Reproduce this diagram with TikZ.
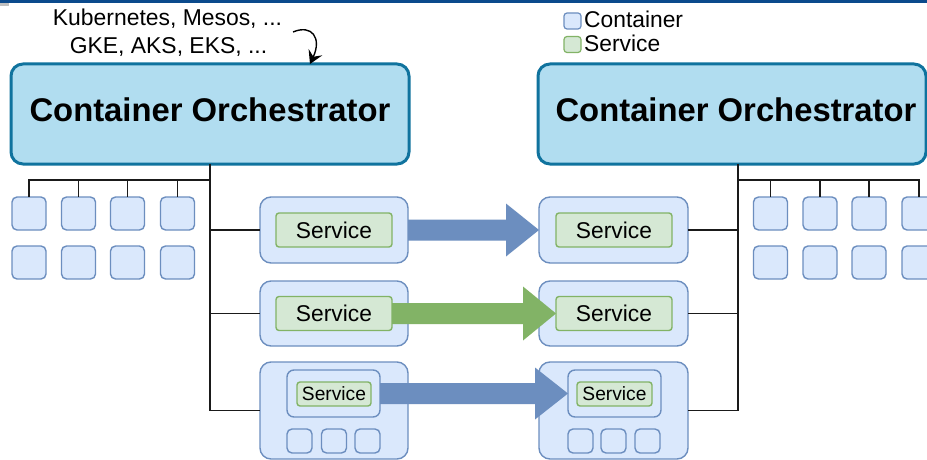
\documentclass[tikz,border=0pt]{standalone}
\usepackage{fontspec}
\setmainfont{Liberation Sans}
\usetikzlibrary{arrows.meta,calc}
\definecolor{orchfill}{HTML}{B1DDF0}
\definecolor{orchline}{HTML}{10739E}
\definecolor{contfill}{HTML}{DAE8FC}
\definecolor{contline}{HTML}{6C8EBF}
\definecolor{svcfill}{HTML}{D5E8D4}
\definecolor{svcline}{HTML}{82B366}
\definecolor{topbar}{HTML}{0B4A8C}
\definecolor{wirecol}{HTML}{1A1A1A}
\tikzset{
  orch/.style={draw=orchline, fill=orchfill, line width=3pt, rounded corners=12pt,
    minimum height=100pt, inner sep=0pt, outer sep=0pt},
  cont/.style={draw=contline, fill=contfill, line width=1.4pt, rounded corners=5pt,
    inner sep=0pt, outer sep=0pt},
  bigcont/.style={draw=contline, fill=contfill, line width=1.4pt, rounded corners=11pt,
    inner sep=0pt, outer sep=0pt},
  svc/.style={draw=svcline, fill=svcfill, line width=1.4pt, rounded corners=3pt,
    inner sep=0pt, outer sep=0pt, font=\fontsize{22.8}{27}\selectfont},
  smallsvc/.style={draw=svcline, fill=svcfill, line width=1.4pt, rounded corners=3pt,
    inner sep=0pt, outer sep=0pt, font=\fontsize{19.2}{23}\selectfont},
  legendbox/.style={line width=1.2pt, rounded corners=3pt, minimum width=17pt,
    minimum height=16pt, inner sep=0pt, outer sep=0pt},
  wire/.style={draw=wirecol, line width=1.4pt},
  titletext/.style={font=\bfseries\fontsize{32.8}{38}\selectfont, inner sep=0pt},
  labeltext/.style={font=\fontsize{22.9}{27}\selectfont, inner sep=0pt, anchor=base},
  legendtext/.style={font=\fontsize{22.8}{27}\selectfont, inner sep=0pt, anchor=base west},
}
\newcommand{\fatarrow}[4]{%
  \fill[#3] let \p1=(#1), \p2=(#2) in
    (\x1,\y1+10.5pt) -- (\x2-33pt,\y1+10.5pt) -- (\x2-33pt,\y1+#4) -- (\x2,\y2)
    -- (\x2-33pt,\y1-#4) -- (\x2-33pt,\y1-10.5pt) -- (\x1,\y1-10.5pt) -- cycle;}
\begin{document}
\begin{tikzpicture}[x=1pt,y=-1pt]
\clip (0,0) rectangle (927,460);
\fill[white] (0,0) rectangle (927,460);
\fill[topbar] (0,0) rectangle (927,3);
\fill[black!25] (0,3) rectangle (9,6);

% orchestrators
\node[orch, minimum width=398pt] (orchL) at (210,114) {};
\node[titletext] (orchLt) at (210,110) {Container Orchestrator};
\node[orch, minimum width=388pt] (orchR) at (732,114) {};
\node[titletext] (orchRt) at (736,110) {Container Orchestrator};

% top label and curved arrow
\node[labeltext] (k8s) at (167.5,26) {Kubernetes, Mesos, ...};
\node[labeltext] (gke) at (168.5,54) {GKE, AKS, EKS, ...};
\coordinate (cs) at (293,32);
\coordinate (ce) at (310,64);
\draw[line width=1.4pt, -{Stealth[length=13pt,width=15pt,inset=5pt]}] (cs) .. controls (312,24) and (322,38) .. (ce);

% legend
\node[legendbox, draw=contline, fill=contfill] (lgc) at (572.5,21) {};
\node[legendtext] (lgct) at (584,28) {Container};
\node[legendbox, draw=svcline, fill=svcfill] (lgs) at (572.5,44.5) {};
\node[legendtext] (lgst) at (584,52) {Service};

% left containers
\foreach \i/\x in {1/29,2/78.5,3/127.5,4/177.5}{
  \node[cont, minimum width=34pt, minimum height=33pt] (cL\i) at (\x,213.5) {};
  \node[cont, minimum width=34pt, minimum height=33pt] (dL\i) at (\x,262.5) {};
}
% right containers
\foreach \i/\x in {1/770.5,2/820,3/869,4/919}{
  \node[cont, minimum width=34pt, minimum height=33pt] (cR\i) at (\x,213.5) {};
  \node[cont, minimum width=34pt, minimum height=33pt] (dR\i) at (\x,262.5) {};
}

% service containers (outer boxes)
\node[bigcont, minimum width=148pt, minimum height=66pt] (sL1) at (334,230) {};
\node[bigcont, minimum width=148pt, minimum height=65pt] (sL2) at (334,313.5) {};
\node[bigcont, minimum width=148pt, minimum height=97pt] (sL3) at (334,410.5) {};
\node[bigcont, minimum width=149pt, minimum height=66pt] (sR1) at (613.5,230) {};
\node[bigcont, minimum width=149pt, minimum height=65pt] (sR2) at (613.5,313.5) {};
\node[bigcont, minimum width=149pt, minimum height=97pt] (sR3) at (613.5,410.5) {};

% wires left
\coordinate (tL) at (210,164);
\coordinate (jL) at (210,180);
\draw[wire] (tL) -- (tL |- sL3.west) -- (sL3.west);
\draw[wire] (tL |- sL1.west) -- (sL1.west);
\draw[wire] (tL |- sL2.west) -- (sL2.west);
\draw[wire] (jL) -- (jL -| cL1.north) -- (cL1.north);
\foreach \c in {cL2,cL3,cL4} \draw[wire] (jL -| \c.north) -- (\c.north);
% wires right
\coordinate (tR) at (738,164);
\coordinate (jR) at (738,180);
\draw[wire] (tR) -- (tR |- sR3.east) -- (sR3.east);
\draw[wire] (tR |- sR1.east) -- (sR1.east);
\draw[wire] (tR |- sR2.east) -- (sR2.east);
\draw[wire] (jR) -- (jR -| cR4.north) -- (cR4.north);
\foreach \c in {cR1,cR2,cR3} \draw[wire] (jR -| \c.north) -- (\c.north);

% inner services
\node[svc, minimum width=116pt, minimum height=34pt] (svcL1) at (334,230) {Service};
\node[svc, minimum width=116pt, minimum height=34pt] (svcL2) at (334,313.5) {Service};
\node[svc, minimum width=116pt, minimum height=34pt] (svcR1) at (614,230) {Service};
\node[svc, minimum width=116pt, minimum height=34pt] (svcR2) at (614,313.5) {Service};

% nested container in third boxes
\node[cont, rounded corners=7pt, minimum width=93pt, minimum height=47pt] (icL) at (333.5,393.5) {};
\node[smallsvc, minimum width=74pt, minimum height=24pt] (isL) at (334,394) {Service};
\node[cont, rounded corners=7pt, minimum width=93pt, minimum height=47pt] (icR) at (614.5,393.5) {};
\node[smallsvc, minimum width=75pt, minimum height=24pt] (isR) at (614.5,394) {Service};
\foreach \i/\x in {1/299.5,2/334,3/367.5}
  \node[cont, minimum width=25pt, minimum height=24pt] (mL\i) at (\x,441) {};
\foreach \i/\x in {1/580.5,2/613.5,3/647.5}
  \node[cont, minimum width=25pt, minimum height=24pt] (mR\i) at (\x,441) {};

% migration arrows
\fatarrow{sL1.east}{sR1.west}{contline}{26.5pt}
\fatarrow{svcL2.east}{svcR2.west}{svcline}{27pt}
\fatarrow{icL.east}{icR.west}{contline}{26pt}
\end{tikzpicture}
\end{document}
